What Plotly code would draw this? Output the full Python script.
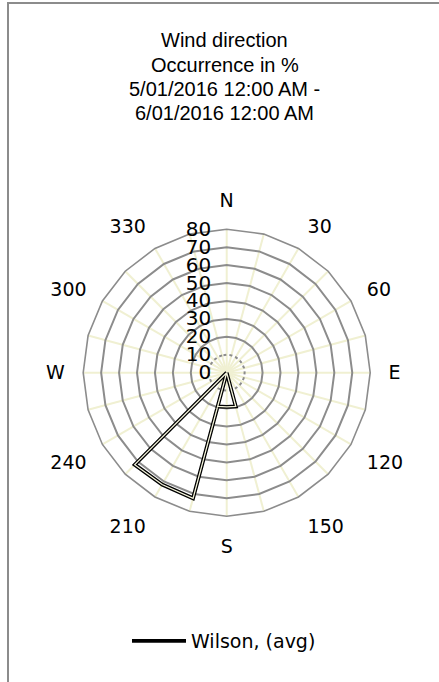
import plotly.graph_objects as go

# ---- data ----
directions = [165, 165, 180, 195, 195, 195, 210, 225, 225]      # wind direction, degrees
occurrence = [0, 19.5, 19, 19.5, 0, 72.5, 72, 72.5, 0]            # occurrence, %
series_name = "Wilson, (avg)"

compass_angles = [0, 30, 60, 90, 120, 150, 180, 210, 240, 270, 300, 330]
compass_labels = ["N", "30", "60", "E", "120", "150", "S", "210", "240", "W", "300", "330"]
radial_ticks = [0, 10, 20, 30, 40, 50, 60, 70, 80]
grid_sectors = [str(a) for a in range(0, 360, 15)]

title_lines = ["Wind direction", "Occurrence in %", "5/01/2016 12:00 AM -", "6/01/2016 12:00 AM"]

W, H = 439, 682
cx, cy, R = 226.7, 372.7, 143.5
dom = dict(x=[(cx - R) / W, (cx + R) / W], y=[(H - cy - R) / H, (H - cy + R) / H])

RING = "#8C8C8C"
SPOKE = "#F0F0D2"
LABEL_FONT = dict(family="DejaVu Sans", size=19, color="black")

fig = go.Figure()
# invisible traces defining the 24 sector categories of the grid subplots
for sp in ["polar", "polar2"]:
    fig.add_trace(go.Scatterpolar(theta=grid_sectors, r=[0] * len(grid_sectors), mode="lines",
                                  line=dict(width=0), showlegend=False, hoverinfo="skip", subplot=sp))

fig.add_trace(go.Scatterpolar(theta=directions, r=occurrence, mode="lines", name=series_name,
                              line=dict(color="black", width=3.8), subplot="polar3", showlegend=True))
fig.add_trace(go.Scatterpolar(theta=directions, r=occurrence, mode="lines",
                              line=dict(color="#F4F4DC", width=1.3), subplot="polar3",
                              showlegend=False, hoverinfo="skip"))

# title lines as centred text
title_baselines = [45.7, 70.1, 94.4, 118.8]
annotations = []
for line, yb in zip(title_lines, title_baselines):
    annotations.append(dict(text=line, xref="paper", yref="paper", x=224.5 / W,
                            y=(H - (yb - 5.5)) / H, xanchor="center", yanchor="middle",
                            showarrow=False,
                            font=dict(family="Liberation Sans", size=20, color="black")))

fig.update_layout(
    width=W, height=H, margin=dict(l=0, r=0, t=0, b=0),
    paper_bgcolor="white",
    annotations=annotations,
    polar=dict(
        domain=dom, gridshape="linear", bgcolor="white",
        angularaxis=dict(type="category", categoryorder="array", categoryarray=grid_sectors,
                         rotation=90, direction="clockwise", showgrid=True, gridcolor=SPOKE,
                         gridwidth=1.5, showline=True, linecolor=RING, linewidth=1.6,
                         showticklabels=False, ticks=""),
        radialaxis=dict(range=[0, 80], tickvals=radial_ticks[2:-1], showgrid=True, gridcolor=RING,
                        gridwidth=1.6, showline=False, showticklabels=False, ticks="", angle=90),
    ),
    polar2=dict(
        domain=dom, gridshape="linear", bgcolor="rgba(0,0,0,0)",
        angularaxis=dict(type="category", categoryorder="array", categoryarray=grid_sectors,
                         rotation=90, direction="clockwise", showgrid=False, showline=False,
                         showticklabels=False, ticks=""),
        radialaxis=dict(range=[0, 80], tickvals=[radial_ticks[1]], showgrid=True, gridcolor=RING,
                        gridwidth=1.6, griddash="dot", showline=False, showticklabels=False,
                        ticks="", angle=90),
    ),
    polar3=dict(
        domain=dom, bgcolor="rgba(0,0,0,0)",
        angularaxis=dict(rotation=90, direction="clockwise", tickmode="array",
                         tickvals=compass_angles, ticktext=compass_labels, showgrid=False,
                         showline=False, ticks="outside", ticklen=14,
                         tickcolor="rgba(0,0,0,0)", tickfont=LABEL_FONT),
        radialaxis=dict(range=[0, 80], tickvals=radial_ticks, showgrid=False, showline=False,
                        angle=90, side="counterclockwise", ticks="outside", ticklen=8,
                        tickcolor="rgba(0,0,0,0)", tickangle=90,
                        tickfont=dict(family="DejaVu Sans", size=20, color="black")),
    ),
    showlegend=True,
    legend=dict(x=224 / W, y=(H - 641) / H, xanchor="center", yanchor="middle",
                orientation="h", font=dict(family="DejaVu Sans", size=19, color="black"),
                itemwidth=54, bgcolor="rgba(0,0,0,0)"),
    shapes=[dict(type="rect", xref="paper", yref="paper", x0=8 / W, x1=1.02, y0=-0.02,
                 y1=1 - 3 / H, line=dict(color="#8C8C8C", width=2),
                 fillcolor="rgba(0,0,0,0)", layer="below")],
)

fig.write_html("out.html", config={"displayModeBar": False},
               post_script="document.body.style.margin='0';")
